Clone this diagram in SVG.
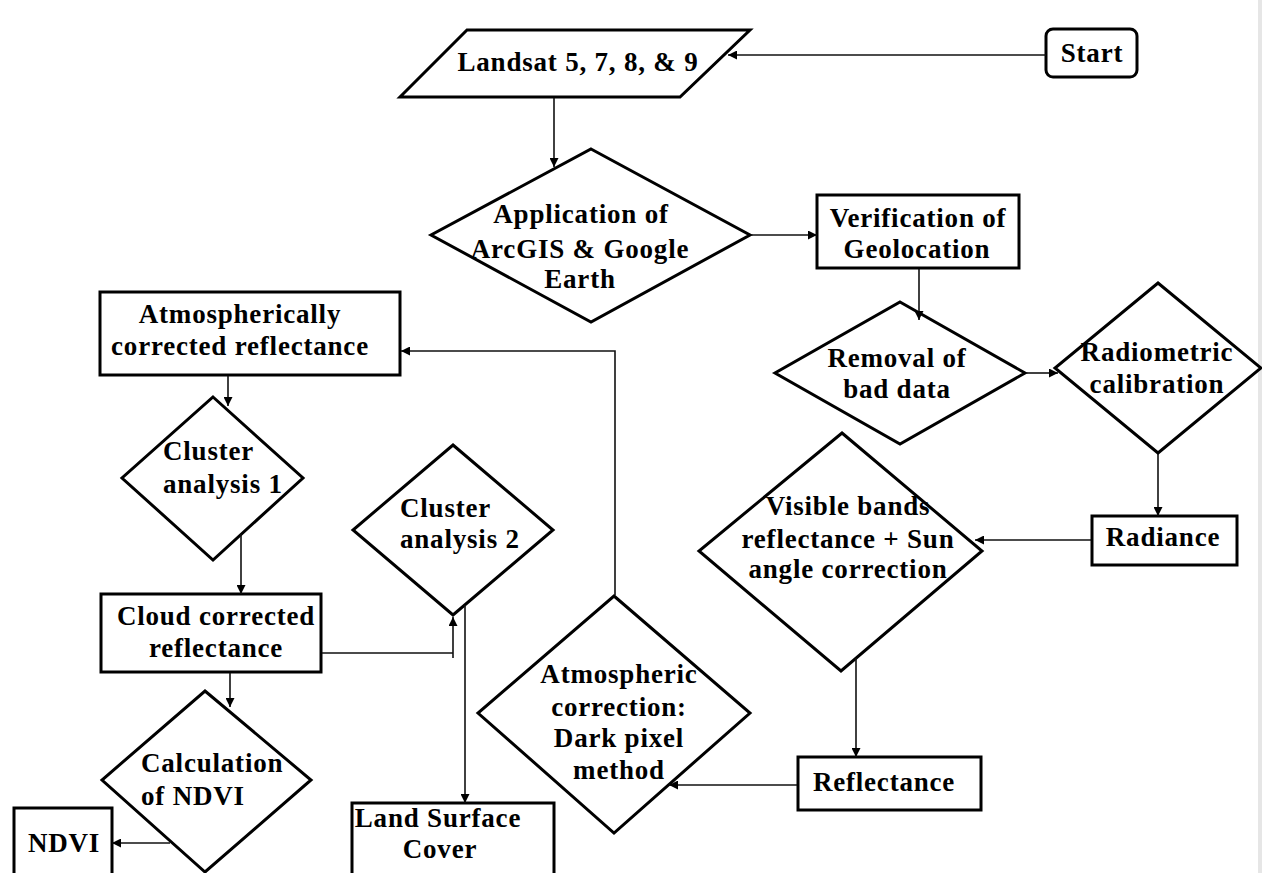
<svg xmlns="http://www.w3.org/2000/svg" width="1262" height="873" viewBox="0 0 1262 873">
<defs>
<style>
.s{fill:#fff;stroke:#000;stroke-width:3;stroke-linejoin:miter}
.t{font-family:"Liberation Serif","Times New Roman",serif;font-weight:bold;font-size:27px;letter-spacing:0.8px;fill:#000}
.m{text-anchor:middle}
.c{fill:none;stroke:#111;stroke-width:1.6}
</style>
<marker id="a" viewBox="0 0 10 10" refX="10" refY="5" markerWidth="9" markerHeight="9" markerUnits="userSpaceOnUse" orient="auto">
<path d="M0,0 L10,5 L0,10 z" fill="#000"/>
</marker>
</defs>
<rect width="1262" height="873" fill="#fff"/>
<rect x="1258" y="0" width="4" height="873" fill="#e6e6e6"/>

<g id="start">
<rect class="s" x="1046" y="29" width="91" height="48" rx="7"/>
<text class="t m" x="1092" y="62">Start</text>
</g>

<g id="landsat">
<polygon class="s" points="467,30 750,30 680,97 400,97"/>
<text class="t m" x="578" y="71">Landsat 5, 7, 8, &amp; 9</text>
</g>

<g id="application">
<polygon class="s" points="591,149 750,235 591,322 431,235"/>
<text class="t m" x="581" y="223">Application of</text>
<text class="t m" x="580" y="258">ArcGIS &amp; Google</text>
<text class="t m" x="580" y="288">Earth</text>
</g>

<g id="verification">
<rect class="s" x="817" y="195" width="202" height="73"/>
<text class="t m" x="918" y="227">Verification of</text>
<text class="t m" x="917" y="258">Geolocation</text>
</g>

<g id="removal">
<polygon class="s" points="900,302 1025,373 900,444 775,373"/>
<text class="t m" x="897" y="367">Removal of</text>
<text class="t m" x="897" y="398">bad data</text>
</g>

<g id="radiometric">
<polygon class="s" points="1158,283 1261,368 1158,453 1055,368"/>
<text class="t m" x="1157" y="361">Radiometric</text>
<text class="t m" x="1157" y="393">calibration</text>
</g>

<g id="radiance">
<rect class="s" x="1092" y="516" width="145" height="49"/>
<text class="t m" x="1163" y="546">Radiance</text>
</g>

<g id="visible">
<polygon class="s" points="842,433 982,551 841,671 699,551"/>
<text class="t m" x="848" y="515">Visible bands</text>
<text class="t m" x="848" y="548">reflectance + Sun</text>
<text class="t m" x="848" y="578">angle correction</text>
</g>

<g id="reflectance">
<rect class="s" x="798" y="757" width="183" height="53"/>
<text class="t m" x="884" y="791">Reflectance</text>
</g>

<g id="atmospheric">
<polygon class="s" points="614,596 750,713 614,833 478,713"/>
<text class="t m" x="619" y="683">Atmospheric</text>
<text class="t m" x="619" y="716">correction:</text>
<text class="t m" x="619" y="747">Dark pixel</text>
<text class="t m" x="619" y="779">method</text>
</g>

<g id="atmos-corrected">
<rect class="s" x="100" y="292" width="300" height="83"/>
<text class="t m" x="240" y="323">Atmospherically</text>
<text class="t m" x="240" y="355">corrected reflectance</text>
</g>

<g id="cluster1">
<polygon class="s" points="213,397 303,478 213,560 122,478"/>
<text class="t" x="163" y="460">Cluster</text>
<text class="t" x="163" y="493">analysis 1</text>
</g>

<g id="cloud">
<rect class="s" x="101" y="594" width="220" height="78"/>
<text class="t m" x="216" y="625">Cloud corrected</text>
<text class="t m" x="216" y="657">reflectance</text>
</g>

<g id="cluster2">
<polygon class="s" points="453,445 553,530 453,615 353,530"/>
<text class="t" x="400" y="517">Cluster</text>
<text class="t" x="400" y="548">analysis 2</text>
</g>

<g id="calculation">
<polygon class="s" points="205,691 311,780 205,872 102,780"/>
<text class="t" x="141" y="772">Calculation</text>
<text class="t" x="141" y="805">of NDVI</text>
</g>

<g id="ndvi">
<rect class="s" x="14" y="808" width="98" height="75"/>
<text class="t m" x="64" y="852">NDVI</text>
</g>

<g id="land-surface">
<rect class="s" x="352" y="803" width="202" height="80"/>
<text class="t m" x="438" y="827">Land Surface</text>
<text class="t m" x="440" y="858">Cover</text>
</g>

<g id="connectors">
<path class="c" d="M1046,55 H728" marker-end="url(#a)"/>
<path class="c" d="M554,98 V167" marker-end="url(#a)"/>
<path class="c" d="M751,235 H817" marker-end="url(#a)"/>
<path class="c" d="M919,269 V320" marker-end="url(#a)"/>
<path class="c" d="M1026,373 H1058" marker-end="url(#a)"/>
<path class="c" d="M1158,454 V516" marker-end="url(#a)"/>
<path class="c" d="M1091,540 H975" marker-end="url(#a)"/>
<path class="c" d="M856,658 V757" marker-end="url(#a)"/>
<path class="c" d="M797,785 H669" marker-end="url(#a)"/>
<path class="c" d="M615,595 V351 H401" marker-end="url(#a)"/>
<path class="c" d="M228,376 V406" marker-end="url(#a)"/>
<path class="c" d="M241,534 V594" marker-end="url(#a)"/>
<path class="c" d="M322,653 H453 M453,658 V617" marker-end="url(#a)"/>
<path class="c" d="M465,605 V803" marker-end="url(#a)"/>
<path class="c" d="M230,673 V707" marker-end="url(#a)"/>
<path class="c" d="M170,843 H112" marker-end="url(#a)"/>
</g>
</svg>
